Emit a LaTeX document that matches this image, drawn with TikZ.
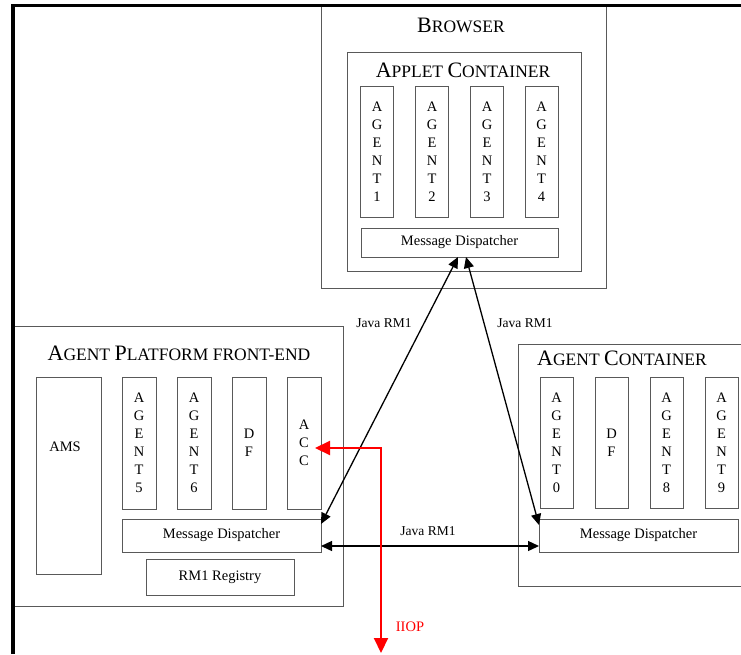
\documentclass[tikz,border=0pt]{standalone}
\usepackage{fontspec}
\setmainfont{Liberation Serif}
\usetikzlibrary{arrows.meta}
\newcommand{\bodyfont}{\fontsize{14.5}{18}\selectfont}
\newcommand{\edgefont}{\fontsize{13.5}{16}\selectfont}
\newcommand{\fsc}[2]{{\fontsize{22}{26}\selectfont #1}{\fontsize{17.5}{26}\selectfont #2}}
\tikzset{
  box/.style   ={rectangle, draw=black!65, line width=1pt, inner sep=0pt, outer sep=0pt,
                 align=center, font=\bodyfont},
  col/.style   ={box, minimum width=33pt, minimum height=131pt},
  disp/.style  ={box, minimum width=198pt, minimum height=33pt},
  ttl/.style   ={anchor=base, inner sep=0pt},
  frame/.style ={line width=3.5pt, black},
  rmi/.style   ={{Triangle[length=11pt,width=10pt]}-{Triangle[length=11pt,width=10pt]},
                 line width=1.3pt, black},
  iiop/.style  ={{Triangle[length=15pt,width=14pt]}-{Triangle[length=15pt,width=14pt]},
                 line width=2pt, red},
  el/.style    ={font=\edgefont, inner sep=1pt},
}

\begin{document}
\begin{tikzpicture}[x=1pt, y=-1pt]
  \useasboundingbox (0,0) rectangle (741,654);
  \clip (0,0) rectangle (741,654);
  \fill[white] (0,0) rectangle (741,654);

  \node[box, minimum width=285pt, minimum height=283pt] (browser) at (463.5,146.5) {};
  \node[ttl] (browsert) at (461,32) {\fsc{B}{ROWSER}};
  \node[box, minimum width=234pt, minimum height=219pt] (applet) at (464,161.5) {};
  \node[ttl] (applett) at (463,77) {\fsc{A}{PPLET }\fsc{C}{ONTAINER}};
  \node[col] (ag1) at (377,151.5)   {A\\G\\E\\N\\T\\1};
  \node[col] (ag2) at (432,151.5)   {A\\G\\E\\N\\T\\2};
  \node[col] (ag3) at (487,151.5)   {A\\G\\E\\N\\T\\3};
  \node[col] (ag4) at (541.5,151.5) {A\\G\\E\\N\\T\\4};
  \node[disp, minimum width=197pt, minimum height=29pt] (bmd) at (459.5,242.5) {Message Dispatcher};

  \node[box, minimum width=330pt, minimum height=280pt] (platform) at (178,466) {};
  \node[ttl] (platformt) at (179,360) {\fsc{A}{GENT }\fsc{P}{LATFORM FRONT-END}};
  \node[box, minimum width=65pt, minimum height=197pt] (ams) at (68.5,475.5) {};
  \node[font=\bodyfont, inner sep=0pt] (amst) at (65,447) {AMS};
  \node[col, minimum width=34pt, minimum height=132pt] (ag5) at (139,443) {A\\G\\E\\N\\T\\5};
  \node[col, minimum width=34pt, minimum height=132pt] (ag6) at (194,443) {A\\G\\E\\N\\T\\6};
  \node[col, minimum width=34pt, minimum height=132pt] (pdf) at (249,443) {D\\F};
  \node[col, minimum width=34pt, minimum height=132pt] (acc) at (304,443) {A\\C\\C};
  \node[disp, minimum width=199pt] (plmd) at (221.5,535.5) {Message Dispatcher};
  \node[box, minimum width=148pt, minimum height=36pt] (reg) at (220,577) {RM1 Registry};

  \node[box, minimum width=242pt, minimum height=242pt] (cont) at (639,465) {};
  \node[ttl] (contt) at (622,365) {\fsc{A}{GENT }\fsc{C}{ONTAINER}};
  \node[col] (ag0) at (556.5,442.5) {A\\G\\E\\N\\T\\0};
  \node[col] (cdf) at (611.5,442.5) {D\\F};
  \node[col] (ag8) at (666.5,442.5) {A\\G\\E\\N\\T\\8};
  \node[col] (ag9) at (721.5,442.5) {A\\G\\E\\N\\T\\9};
  \node[disp, minimum width=199pt] (cmd) at (638.5,535.5) {Message Dispatcher};

  \draw[frame] (13,654) -- (13,5.5) -- (741,5.5);

  \draw[rmi] ([xshift=-1.5pt]bmd.south) -- ([yshift=-5pt]plmd.north east);
  \draw[rmi] ([xshift=6.5pt]bmd.south) -- ([yshift=-6pt]cmd.north west);
  \draw[rmi] ([yshift=6pt]plmd.south east) -- ([yshift=6pt]cmd.south west);
  \node[el] (rmil) at (384,323) {Java RM1};
  \node[el] (rmir) at (525,323) {Java RM1};
  \node[el] (rmib) at (428,531) {Java RM1};

  \coordinate (iiopend) at (381,653);
  \draw[iiop] ([xshift=-6pt,yshift=-5pt]acc.east) -| (iiopend);
  \node[el, text=red, font=\bodyfont] (iiopl) at (410,627) {IIOP};
\end{tikzpicture}
\end{document}
